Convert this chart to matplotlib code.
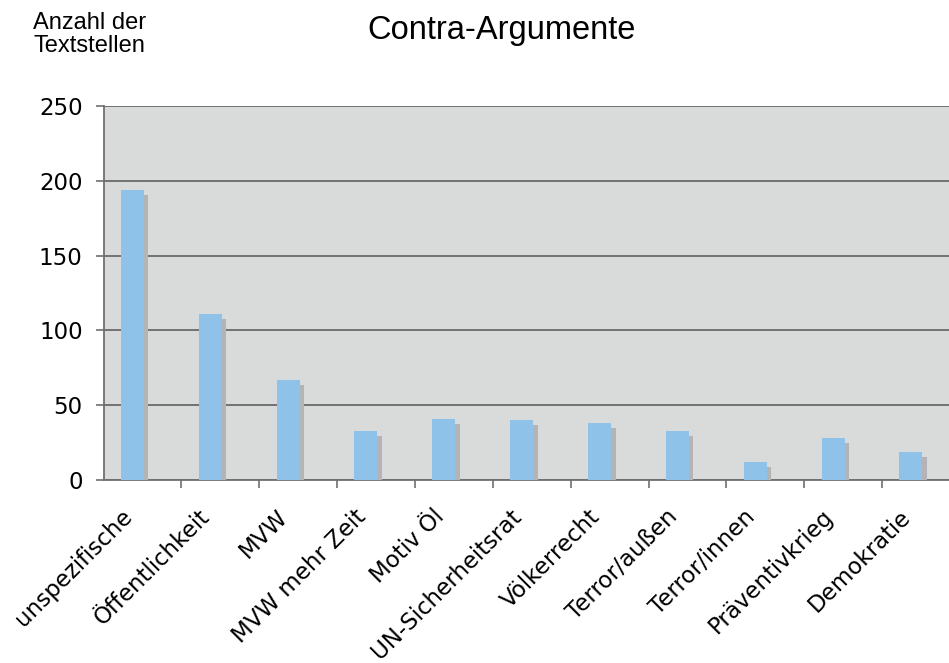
import numpy as np
import matplotlib
matplotlib.use("Agg")
from matplotlib import pyplot as plt
from matplotlib import patheffects as pe

plt.rcParams["font.family"] = "DejaVu Sans"

# Daten: Contra-Argumente, Anzahl der Textstellen
categories = ["unspezifische", "Öffentlichkeit", "MVW", "MVW mehr Zeit", "Motiv Öl",
              "UN-Sicherheitsrat", "Völkerrecht", "Terror/außen", "Terror/innen",
              "Präventivkrieg", "Demokratie"]
counts = [194, 111, 67, 33, 41, 40, 38, 33, 12, 28, 19]
y_ticks = [0, 50, 100, 150, 200, 250]

W, H = 949, 663
fig = plt.figure(figsize=(W / 100, H / 100), dpi=100)
fig.patch.set_facecolor("white")

# axes rectangle in pixels (right edge runs a bit past the figure, like the original)
left, right, top, bottom = 103.5, 960, 106, 480
ax = fig.add_axes([left / W, 1 - bottom / H, (right - left) / W, (bottom - top) / H])
ax.set_facecolor("#d9dbdb")

x = np.arange(len(categories))
bar_x = x - 0.13
shadow = [pe.SimplePatchShadow(offset=(3.3, -3.6), shadow_rgbFace="#b4b4b4", alpha=1.0),
          pe.Normal()]
bars = ax.bar(bar_x, counts, width=0.295, color="#8fc2e8", zorder=3)
for b in bars:
    b.set_path_effects(shadow)

ax.set_xlim(-0.5, len(categories) - 0.5)
ax.set_ylim(0, 250)

# grid lines
ax.set_yticks(y_ticks)
ax.yaxis.grid(True, color="#6a6a6a", linewidth=1.3, zorder=1)
ax.set_axisbelow(True)
for s in ["top", "right"]:
    ax.spines[s].set_visible(False)
ax.spines["left"].set_color("#707070")
ax.spines["bottom"].set_color("#707070")
ax.spines["left"].set_linewidth(1.3)
ax.spines["bottom"].set_linewidth(1.3)

ax.tick_params(axis="y", length=6, width=1.2, color="#707070", pad=9, labelsize=16.5)

# boundary ticks (major) and rotated labels (minor, no tick line)
ax.set_xticks(x + 0.5)
ax.set_xticklabels([])
ax.tick_params(axis="x", which="major", length=6, width=1.2, color="#707070")
ax.set_xticks(x - 0.28, minor=True)
ax.set_xticklabels(categories, minor=True, rotation=45, ha="right",
                   rotation_mode="anchor", va="top", fontsize=16.5)
ax.tick_params(axis="x", which="minor", length=0, pad=18)

fig.text(501.5 / W, 1 - 39.5 / H, "Contra-Argumente", ha="center", va="baseline",
         fontsize=23.5, family="Liberation Sans")
fig.text(33 / W, 1 - 12 / H, "Anzahl der\nTextstellen", ha="left", va="top",
         multialignment="left", fontsize=17, family="Liberation Sans", linespacing=1.05)

fig.savefig("out.png", dpi=100)
